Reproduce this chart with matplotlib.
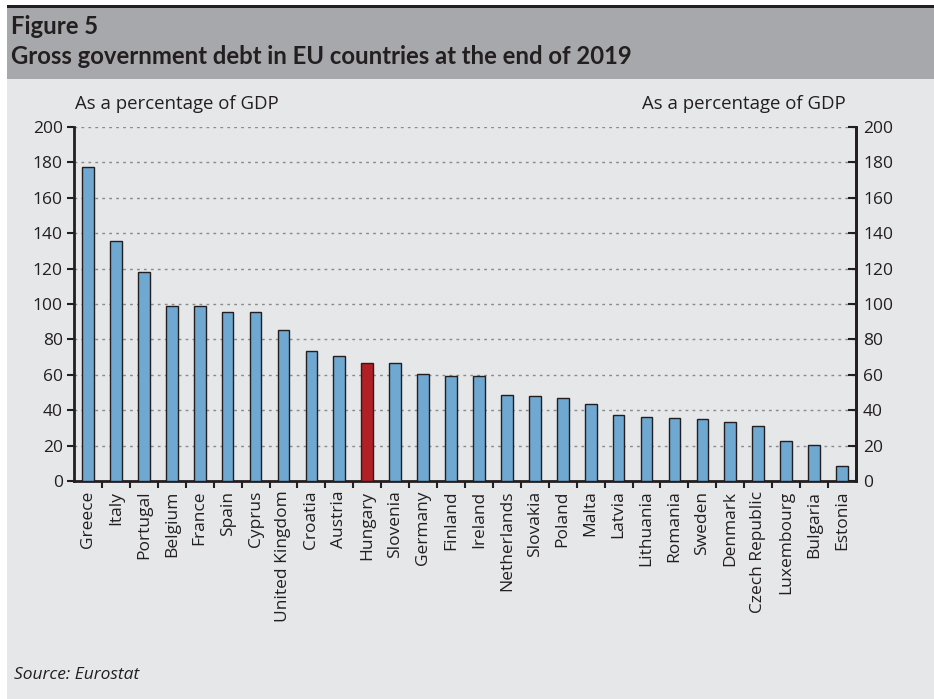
import matplotlib.pyplot as plt
import numpy as np
from matplotlib.patches import Rectangle

plt.rcParams['font.family'] = ['Open Sans', 'DejaVu Sans']

countries = ['Greece', 'Italy', 'Portugal', 'Belgium', 'France', 'Spain', 'Cyprus',
             'United Kingdom', 'Croatia', 'Austria', 'Hungary', 'Slovenia', 'Germany',
             'Finland', 'Ireland', 'Netherlands', 'Slovakia', 'Poland', 'Malta', 'Latvia',
             'Lithuania', 'Romania', 'Sweden', 'Denmark', 'Czech Republic', 'Luxembourg',
             'Bulgaria', 'Estonia']
debt = [177.3, 135.5, 117.8, 98.9, 98.9, 95.7, 95.7, 85.4, 73.6, 70.8, 66.6, 66.5,
        60.2, 59.4, 59.3, 48.8, 47.9, 46.7, 43.4, 37.5, 36.4, 35.4, 35.3, 33.5,
        31.1, 22.6, 20.4, 8.3]
highlight = 'Hungary'
yticks = np.arange(0, 201, 20)

W, H = 934, 699
FS = 12.5
INK = '#231f20'
fig = plt.figure(figsize=(W / 100, H / 100), dpi=100)
fig.patch.set_facecolor('white')

# background panels
fig.add_artist(Rectangle((7 / W, 0), 1, 1 - 79 / H, transform=fig.transFigure,
                         facecolor='#e6e7e9', edgecolor='none', zorder=-3))
fig.add_artist(Rectangle((7 / W, 1 - 79 / H), 1, 72 / H, transform=fig.transFigure,
                         facecolor='#a7a8ab', edgecolor='none', zorder=-3))
fig.add_artist(Rectangle((7 / W, 1 - 7.5 / H), 1, 2.5 / H, transform=fig.transFigure,
                         facecolor=INK, edgecolor='none', zorder=-2))

fig.text(11 / W, 1 - 27 / H, 'Figure 5', fontsize=17.2, fontweight='bold',
         family=['Lato', 'DejaVu Sans'], va='center', ha='left', color=INK)
fig.text(11 / W, 1 - 57 / H, 'Gross government debt in EU countries at the end of 2019',
         fontsize=17.2, fontweight='bold', family=['Lato', 'DejaVu Sans'],
         va='center', ha='left', color=INK)
fig.text(14 / W, 1 - 675 / H, 'Source: Eurostat', fontsize=12.5, style='italic',
         va='center', ha='left', color=INK)

ax = fig.add_axes([74 / W, 1 - 481 / H, (856 - 74) / W, (481 - 127) / H])
ax.set_facecolor('none')

x = np.arange(len(countries))
colors = ['#b22025' if c == highlight else '#6fa8d0' for c in countries]
ax.bar(x, debt, width=0.42, color=colors, edgecolor=INK, linewidth=1.0, zorder=3)

ax.set_xlim(-0.5, len(countries) - 0.5)
ax.set_ylim(0, 200)
ax.set_yticks(yticks)
ax.set_yticklabels([str(v) for v in yticks], fontsize=FS, color=INK)
for v in yticks[1:]:
    ax.axhline(v, color='#8a8a8a', linestyle=(0, (2, 3)), linewidth=1.0, zorder=1)

ax.set_xticks(x)
ax.set_xticklabels(countries, rotation=90, fontsize=FS, color=INK)
ax.tick_params(axis='x', length=0, pad=7)
ax.set_xticks(np.arange(0.5, len(countries) - 0.5, 1), minor=True)
ax.tick_params(axis='x', which='minor', length=5, width=1.5, color=INK)
ax.tick_params(axis='y', length=5, width=1.5, color=INK, pad=3)

for s in ['left', 'right', 'bottom']:
    ax.spines[s].set_linewidth(2)
    ax.spines[s].set_color(INK)
ax.spines['top'].set_visible(False)

ax2 = ax.twinx()
ax2.set_ylim(0, 200)
ax2.set_yticks(yticks)
ax2.set_yticklabels([str(v) for v in yticks], fontsize=FS, color=INK)
ax2.tick_params(axis='y', direction='in', length=6, width=1.5, color=INK, pad=5)
for s in ['top', 'left', 'bottom']:
    ax2.spines[s].set_visible(False)
ax2.spines['right'].set_linewidth(2)
ax2.spines['right'].set_color(INK)

fig.text(75 / W, 1 - 104 / H, 'As a percentage of GDP', fontsize=13.4, ha='left',
         va='center', color=INK)
fig.text(846 / W, 1 - 104 / H, 'As a percentage of GDP', fontsize=13.4, ha='right',
         va='center', color=INK)

fig.savefig('out.png', dpi=100)
